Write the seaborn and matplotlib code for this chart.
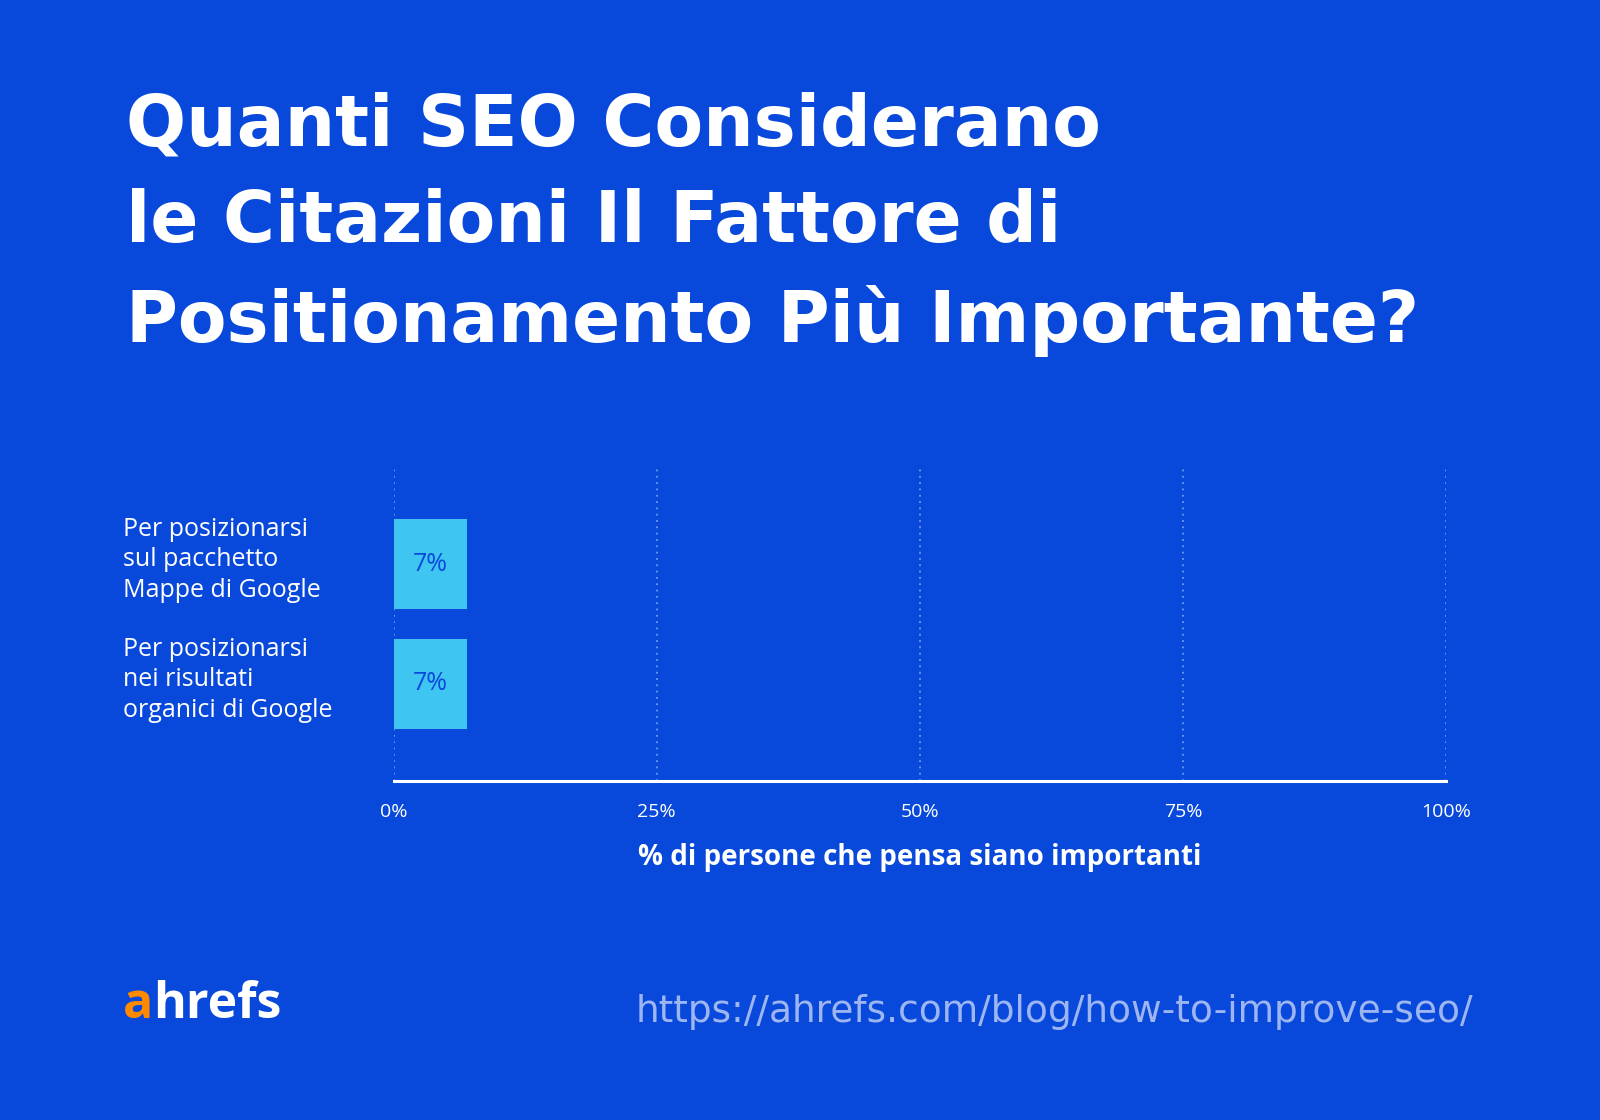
import matplotlib
matplotlib.use("Agg")
import matplotlib.pyplot as plt
import seaborn as sns
import pandas as pd

bg = "#0849DB"
bar_color = "#3EC5F1"

categories = ["Per posizionarsi\nsul pacchetto\nMappe di Google",
              "Per posizionarsi\nnei risultati\norganici di Google"]
values = [7, 7]
ticks = [0, 25, 50, 75, 100]

df = pd.DataFrame({"cat": categories, "val": values})

sns.set_theme(style="white")
plt.rcParams['font.family'] = ['Open Sans', 'DejaVu Sans']

fig = plt.figure(figsize=(16, 11.2), dpi=100, facecolor=bg)
ax = fig.add_axes([0.246, 0.303, 0.658, 0.278], facecolor=bg)

sns.barplot(data=df, x="val", y="cat", color=bar_color, width=0.75,
            saturation=1, linewidth=0, ax=ax)
for i, v in enumerate(values):
    ax.text(v / 2, i, f"{v}%", ha="center", va="center", color=bg,
            fontsize=18)

ax.set_xlim(0, 100)
ax.set_ylim(1.81, -0.795)
for t in ticks:
    ax.axvline(t, color="#6f9bf0", ls=(0, (1, 2.5)), lw=1.3, zorder=0)
for s in ["top", "right", "left"]:
    ax.spines[s].set_visible(False)
ax.spines["bottom"].set_color("white")
ax.spines["bottom"].set_linewidth(2.2)
ax.set_xticks(ticks)
ax.set_xticklabels([f"{t}%" for t in ticks], color="white", fontsize=14)
ax.tick_params(axis="x", length=0, pad=16)
ax.set_yticks([])
ax.set_ylabel("")
ax.set_xlabel("% di persone che pensa siano importanti", color="white",
              fontsize=20, fontweight="bold", labelpad=16)

for i, c in enumerate(categories):
    fig.text(0.077, 0.500 - i * 0.107, c, color="white", fontsize=18,
             va="center", ha="left", linespacing=1.3)

fig.text(0.079, 0.918, "Quanti SEO Considerano\nle Citazioni Il Fattore di\nPositionamento Più Importante?",
         color="white", fontsize=51, fontweight="bold", va="top", ha="left",
         linespacing=1.5, family=["DejaVu Sans"])

fig.text(0.077, 0.103, "a", color="#FF8A00", fontsize=36, fontweight="bold", va="center")
fig.text(0.0955, 0.103, "hrefs", color="white", fontsize=36, fontweight="bold", va="center")
fig.text(0.921, 0.096, "https://ahrefs.com/blog/how-to-improve-seo/", color="#9DB6F2",
         fontsize=27, ha="right", va="center", family=["DejaVu Sans"])

fig.savefig("out.png", dpi=100, facecolor=bg)
